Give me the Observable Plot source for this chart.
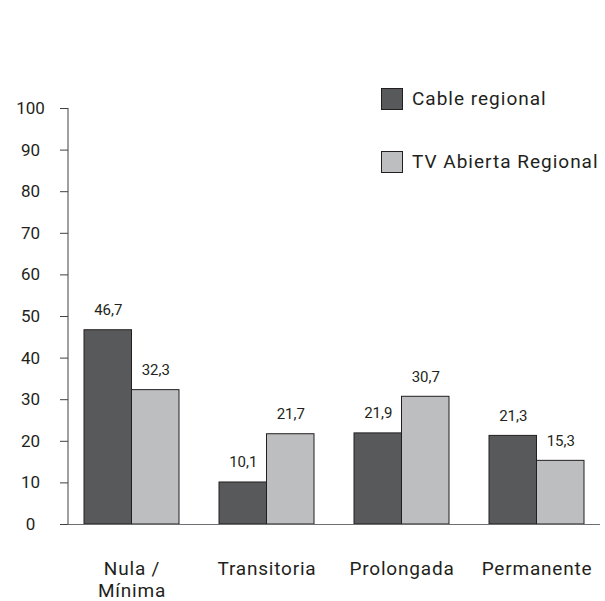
<!DOCTYPE html>
<html>
<head>
<meta charset="utf-8">
<script src="https://cdn.jsdelivr.net/npm/d3@7"></script>
<script src="https://cdn.jsdelivr.net/npm/@observablehq/plot@0.6"></script>
<style>
  body { margin: 0; background: #fff; font-family: Roboto, "DejaVu Sans", sans-serif; }
  #wrap { position: relative; width: 605px; height: 601px; }
  .leg { position: absolute; display: flex; align-items: center; font-size: 19px; font-weight: 400; letter-spacing: 1px; color: #231f20; white-space: nowrap; }
  .sw { width: 22px; height: 22px; box-sizing: border-box; border: 1px solid #231f20; margin-right: 9px; }
  svg text { font-weight: 400; }
  g[aria-label="x-axis tick label"] text { letter-spacing: 0.8px; }
</style>
</head>
<body>
<div id="wrap"></div>
<script>
const categories = ["Nula /\nMínima", "Transitoria", "Prolongada", "Permanente"];
const seriesNames = ["Cable regional", "TV Abierta Regional"];
const cableRegional = [46.7, 10.1, 21.9, 21.3];
const tvAbiertaRegional = [32.3, 21.7, 30.7, 15.3];
const yTicks = [0, 10, 20, 30, 40, 50, 60, 70, 80, 90, 100];

const colors = { "Cable regional": "#58595b", "TV Abierta Regional": "#bcbec0" };
const cableRows = categories.map((c, i) => ({ cat: c, value: cableRegional[i] }));
const tvRows = categories.map((c, i) => ({ cat: c, value: tvAbiertaRegional[i] }));
const fmt = v => v.toFixed(1).replace(".", ",");

const W = 605, H = 601, mL = 68, mR = 5, mT = 108, mB = 77;
const pIn = 0.3, pOut = 0.11;
const step = (W - mL - mR) / (categories.length - pIn + 2 * pOut);
const half = step * (1 - pIn) / 2;

const txt = "#231f20";

const yAxisLine = (index, scales, values, dimensions) => {
  const g = d3.create("svg:g");
  g.append("line")
    .attr("x1", dimensions.marginLeft).attr("x2", dimensions.marginLeft)
    .attr("y1", scales.y(0)).attr("y2", scales.y(100))
    .attr("stroke", "#414042").attr("stroke-width", 1);
  return g.node();
};

const chart = Plot.plot({
  width: W, height: H,
  marginTop: mT, marginBottom: mB, marginLeft: mL, marginRight: mR,
  style: { fontFamily: "Roboto, 'DejaVu Sans', sans-serif", color: txt, background: "#fff" },
  x: { type: "band", domain: categories, paddingInner: pIn, paddingOuter: pOut, axis: null, label: null },
  y: { domain: [0, 100], axis: null, label: null },
  marks: [
    Plot.barY(cableRows, { x: "cat", y: "value", fill: colors["Cable regional"], stroke: "#231f20", strokeWidth: 1, insetRight: half }),
    Plot.barY(tvRows, { x: "cat", y: "value", fill: colors["TV Abierta Regional"], stroke: "#231f20", strokeWidth: 1, insetLeft: half }),
    Plot.text(cableRows, { x: "cat", y: "value", text: d => fmt(d.value), dx: -half / 2, dy: -15, lineAnchor: "bottom", fontSize: 15, fill: txt }),
    Plot.text(tvRows, { x: "cat", y: "value", text: d => fmt(d.value), dx: half / 2, dy: -15, lineAnchor: "bottom", fontSize: 15, fill: txt }),
    Plot.ruleY([0], { stroke: "#6d6e71", strokeWidth: 1.2 }),
    yAxisLine,
    Plot.axisY({ ticks: yTicks, tickSize: 8, tickPadding: 30, textAnchor: "middle", fontSize: 17, stroke: "#414042", fill: txt, tickFormat: d => String(d), label: null }),
    Plot.axisX({ tickSize: 0, tickPadding: 35, fontSize: 19, lineHeight: 1.16, fill: txt, lineAnchor: "top", label: null })
  ]
});

const wrap = document.getElementById("wrap");
chart.style.position = "absolute";
chart.style.left = "0px";
chart.style.top = "0px";
wrap.appendChild(chart);

const legendPos = [{ left: 381, top: 87 }, { left: 381, top: 150 }];
seriesNames.forEach((name, i) => {
  const item = document.createElement("div");
  item.className = "leg";
  item.style.left = legendPos[i].left + "px";
  item.style.top = legendPos[i].top + "px";
  const sw = document.createElement("div");
  sw.className = "sw";
  sw.style.background = colors[name];
  const lab = document.createElement("span");
  lab.textContent = name;
  item.appendChild(sw);
  item.appendChild(lab);
  wrap.appendChild(item);
});
</script>
</body>
</html>
